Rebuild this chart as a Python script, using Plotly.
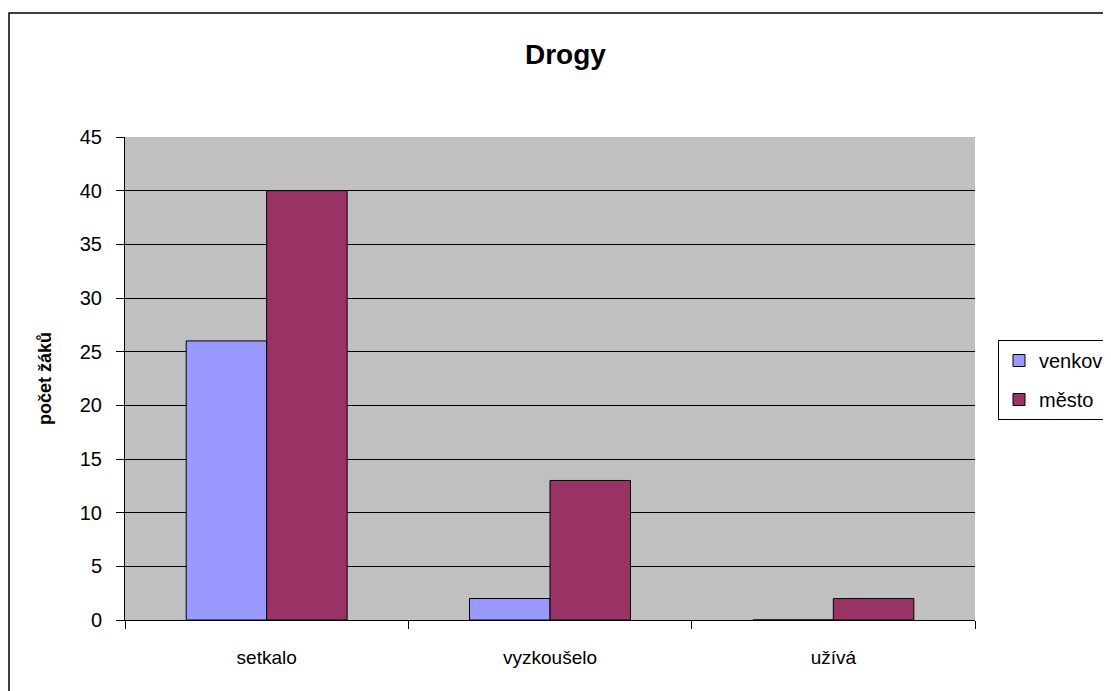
import plotly.graph_objects as go

categories = ["setkalo", "vyzkoušelo", "užívá"]
venkov = [26, 2, 0]
mesto = [40, 13, 2]
y_ticks = [0, 5, 10, 15, 20, 25, 30, 35, 40, 45]

W, H = 1111, 691
OFF = 8  # page body margin offset
L, T = 125 - OFF, 137 - OFF
pw, ph = 850, 483
R = W - L - pw
B = H - T - ph

def px(x):
    return (x - OFF - L) / pw

def py(y):
    return (T + ph - (y - OFF)) / ph

font = "Liberation Sans, Arial, sans-serif"

fig = go.Figure()
fig.add_trace(go.Bar(name="venkov", x=categories, y=venkov, legendgroup="a",
                     marker=dict(color="#9999FF", line=dict(color="black", width=1))))
fig.add_trace(go.Bar(name="město", x=categories, y=mesto, legendgroup="b",
                     marker=dict(color="#993366", line=dict(color="black", width=1))))

fig.update_layout(
    width=W, height=H,
    margin=dict(l=L, r=R, t=T, b=B, autoexpand=False),
    paper_bgcolor="white",
    plot_bgcolor="#C0C0C0",
    barmode="group",
    bargap=0.432,
    bargroupgap=0,
    font=dict(family=font, size=20, color="black"),
    showlegend=True,
    legend=dict(x=px(998), y=py(340), xanchor="left", yanchor="top",
                bgcolor="white", bordercolor="black", borderwidth=1,
                font=dict(size=20, family=font), itemwidth=30,
                tracegroupgap=10),
)

fig.update_xaxes(
    showline=True, linecolor="black", linewidth=1,
    ticks="outside", tickson="boundaries", ticklen=8, tickcolor="black",
    tickfont=dict(size=19), showgrid=False, ticklabelstandoff=20,
)
fig.update_yaxes(
    range=[0, 45], tickvals=y_ticks,
    showline=True, linecolor="black", linewidth=1, mirror=False,
    ticks="outside", ticklen=8, tickcolor="black",
    showgrid=True, gridcolor="black", gridwidth=1,
    zeroline=False, tickfont=dict(size=20), ticklabelstandoff=10,
    title=dict(text="<b>počet žáků</b>", font=dict(size=18), standoff=23),
)

fig.add_annotation(text="<b>Drogy</b>", xref="paper", yref="paper",
                   x=px(565), y=py(55), showarrow=False,
                   font=dict(size=28, family=font), xanchor="center", yanchor="middle")

fig.add_shape(type="rect", xref="paper", yref="paper",
              x0=px(9), y0=py(730), x1=px(1140), y1=py(13),
              line=dict(color="black", width=1.5), fillcolor="rgba(0,0,0,0)", layer="below")

fig.write_html("out.html")
